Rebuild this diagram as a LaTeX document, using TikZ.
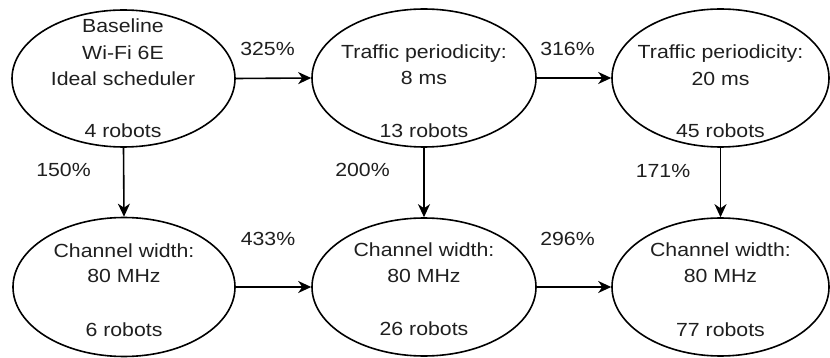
\documentclass[tikz,border=0pt]{standalone}
\usepackage{fontspec}
\setmainfont[FakeStretch=1.12]{Liberation Sans}
\usetikzlibrary{shapes.geometric,arrows.meta}
\tikzset{
  ell/.style={draw, ellipse, line width=1.6pt, inner sep=0pt},
  lbl/.style={anchor=base, inner sep=0pt, font=\fontsize{19}{22}\selectfont, text=black!88},
  conn/.style={line width=1.6pt, -{Stealth[length=13pt,width=12pt,inset=4pt]}}
}
\begin{document}
\begin{tikzpicture}[x=1pt,y=-1pt]
\useasboundingbox (0,0) rectangle (830,358);
% ellipses
\node[ell, minimum width=223pt, minimum height=137pt] (e1) at (123.5,78.5) {};
\node[ell, minimum width=224pt, minimum height=138pt] (e2) at (424,78) {};
\node[ell, minimum width=217pt, minimum height=138pt] (e3) at (720.5,78) {};
\node[ell, minimum width=222pt, minimum height=139pt] (e4) at (124,287) {};
\node[ell, minimum width=224pt, minimum height=138pt] (e5) at (424,287) {};
\node[ell, minimum width=217pt, minimum height=138pt] (e6) at (720.5,287) {};
% texts
\node[lbl] (t1a) at (123,33) {Baseline};
\node[lbl] (t1b) at (123,59.5) {Wi-Fi 6E};
\node[lbl] (t1c) at (123,86) {Ideal scheduler};
\node[lbl] (t1d) at (123,137.5) {4 robots};
\node[lbl] (t2a) at (424,59) {Traffic periodicity:};
\node[lbl] (t2b) at (424,85) {8 ms};
\node[lbl] (t2c) at (424,137.5) {13 robots};
\node[lbl] (t3a) at (720.5,59) {Traffic periodicity:};
\node[lbl] (t3b) at (720.5,85.5) {20 ms};
\node[lbl] (t3c) at (720.5,137.5) {45 robots};
\node[lbl] (t4a) at (124,257.5) {Channel width:};
\node[lbl] (t4b) at (124,283) {80 MHz};
\node[lbl] (t4c) at (124,336) {6 robots};
\node[lbl] (t5a) at (424,257) {Channel width:};
\node[lbl] (t5b) at (424,282.5) {80 MHz};
\node[lbl] (t5c) at (424,335) {26 robots};
\node[lbl] (t6a) at (720.5,257) {Channel width:};
\node[lbl] (t6b) at (720.5,283) {80 MHz};
\node[lbl] (t6c) at (720.5,336) {77 robots};
% connectors
\draw[conn] (e1.east) -- (e2.west);
\draw[conn] (e2.east) -- (e3.west);
\draw[conn] (e4.east) -- (e5.west);
\draw[conn] (e5.east) -- (e6.west);
\draw[conn] (e1.south) -- (e4.north);
\draw[conn] (e2.south) -- (e5.north);
\draw[conn] (e3.south) -- (e6.north);
% percentages
\node[lbl] (p1) at (267.5,56) {325\%};
\node[lbl] (p2) at (567.5,55.5) {316\%};
\node[lbl] (p3) at (63.5,177) {150\%};
\node[lbl] (p4) at (362.5,176.5) {200\%};
\node[lbl] (p5) at (663,178) {171\%};
\node[lbl] (p6) at (268,245) {433\%};
\node[lbl] (p7) at (567.5,245) {296\%};
\end{tikzpicture}
\end{document}
